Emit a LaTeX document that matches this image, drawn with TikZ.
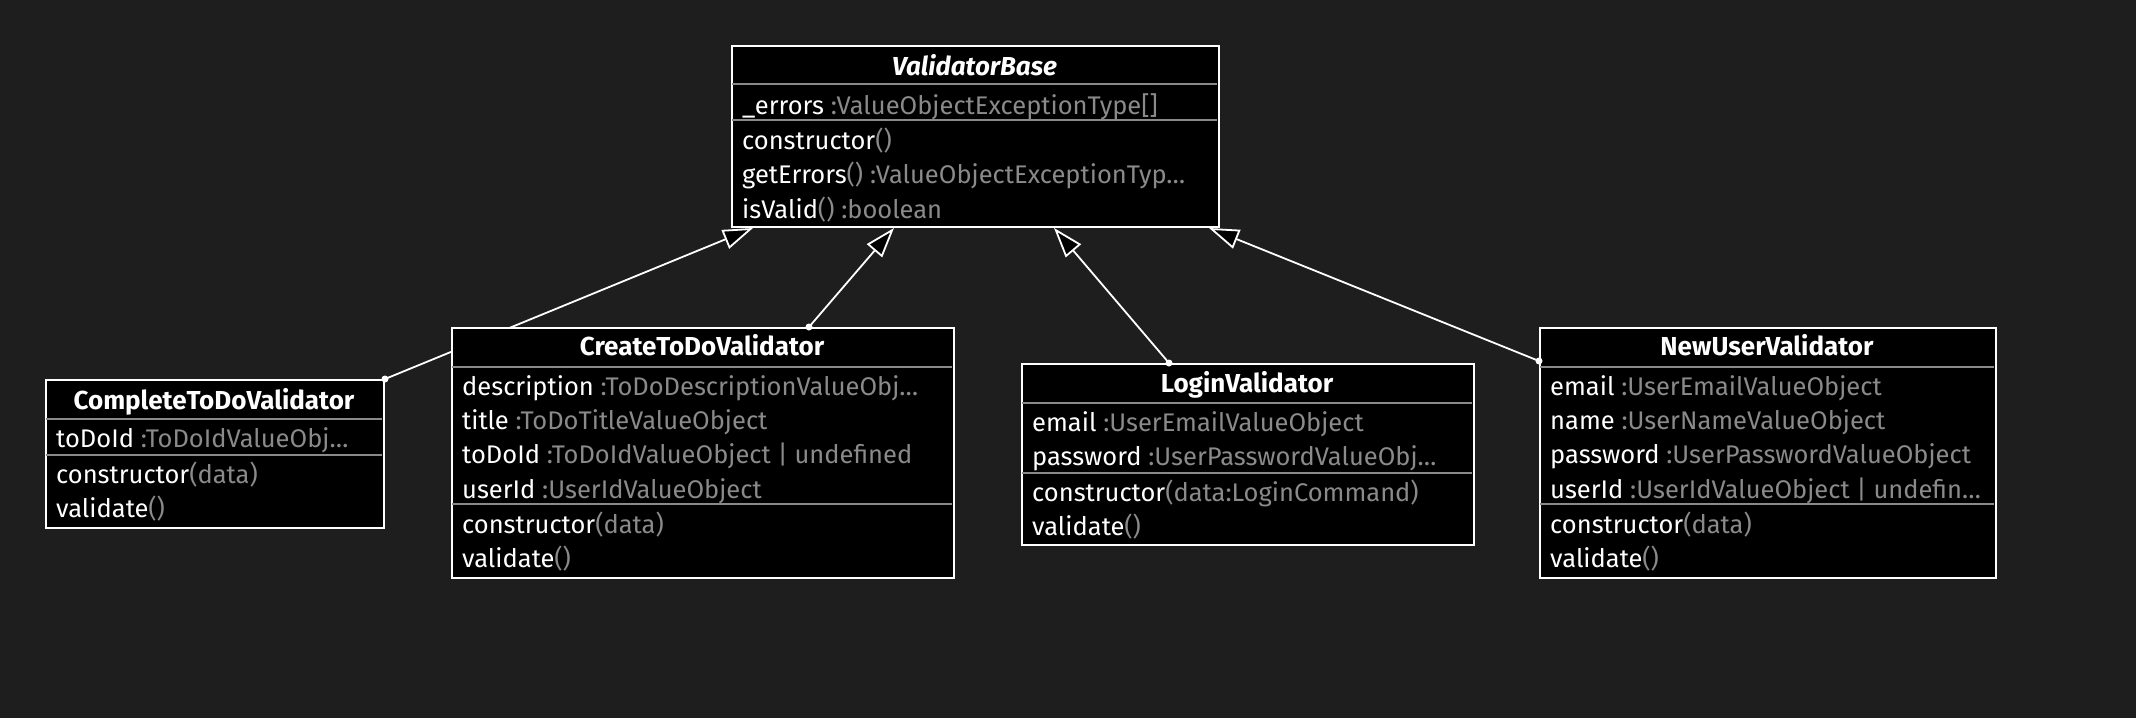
\documentclass[tikz,border=0pt]{standalone}
\usepackage{fontspec}
\setmainfont{Fira Sans}
\usetikzlibrary{arrows.meta}
\definecolor{bgc}{HTML}{1E1E1E}
\definecolor{tgray}{HTML}{8A8A8A}
\definecolor{sgray}{HTML}{8A8A8A}
\pgfdeclarelayer{back}
\pgfdeclarelayer{conn}
\pgfsetlayers{back,conn,main}
\newcommand{\ty}[1]{\textcolor{tgray}{#1}}
\begin{document}
\begin{tikzpicture}[x=1pt,y=-1pt,
 classbox/.style={draw=white, fill=black, line width=2pt, rectangle, inner sep=0pt, anchor=north west},
 sepline/.style={draw=sgray, line width=2pt},
 ttl/.style={font=\fontsize{26}{30}\selectfont\bfseries, text=white, inner sep=0pt, anchor=base},
 row/.style={font=\fontsize{25.5}{30}\selectfont, text=white, inner sep=0pt, anchor=base west},
 gen/.style={draw=white, line width=1.8pt, -{Triangle[length=30pt,width=20pt,fill=black]}},
 tdot/.style={fill=white}
]
\begin{pgfonlayer}{back}
\fill[bgc] (0,0) rectangle (2136,718);
\end{pgfonlayer}
\useasboundingbox (0,0) rectangle (2136,718);

% ValidatorBase
\node[classbox, minimum width=487pt, minimum height=181pt] (base) at (731,45) {};
\draw[sepline] (732,84) -- (1217,84);
\draw[sepline] (732,120) -- (1217,120);
\node[ttl] (base-t) at (974.5,75) {\itshape ValidatorBase};
\node[row] (base-a1) at (742,114) {\_errors \ty{:ValueObjectExceptionType[]}};
\node[row] (base-m1) at (742,149) {constructor\ty{()}};
\node[row] (base-m2) at (742,183.5) {getErrors\ty{() :ValueObjectExceptionTyp…}};
\node[row] (base-m3) at (742,218) {isValid\ty{() :boolean}};

% CompleteToDoValidator
\node[classbox, minimum width=338pt, minimum height=148pt] (complete) at (45,379) {};
\draw[sepline] (46,419) -- (382,419);
\draw[sepline] (46,455) -- (382,455);
\node[ttl] (complete-t) at (214,409) {CompleteToDoValidator};
\node[row] (complete-a1) at (56,447) {toDoId \ty{:ToDoIdValueObj…}};
\node[row] (complete-m1) at (56,483) {constructor\ty{(data)}};
\node[row] (complete-m2) at (56,517) {validate\ty{()}};

% CreateToDoValidator
\node[classbox, minimum width=502pt, minimum height=250pt] (create) at (451,327) {};
\draw[sepline] (452,367) -- (952,367);
\draw[sepline] (452,504) -- (952,504);
\node[ttl] (create-t) at (702,355) {CreateToDoValidator};
\node[row] (create-a1) at (462,395) {description \ty{:ToDoDescriptionValueObj…}};
\node[row] (create-a2) at (462,429) {title \ty{:ToDoTitleValueObject}};
\node[row] (create-a3) at (462,463.5) {toDoId \ty{:ToDoIdValueObject | undefined}};
\node[row] (create-a4) at (462,498) {userId \ty{:UserIdValueObject}};
\node[row] (create-m1) at (462,533) {constructor\ty{(data)}};
\node[row] (create-m2) at (462,567) {validate\ty{()}};

% LoginValidator
\node[classbox, minimum width=452pt, minimum height=181pt] (login) at (1021,363) {};
\draw[sepline] (1022,403) -- (1472,403);
\draw[sepline] (1022,473) -- (1472,473);
\node[ttl] (login-t) at (1247,392) {LoginValidator};
\node[row] (login-a1) at (1032,431) {email \ty{:UserEmailValueObject}};
\node[row] (login-a2) at (1032,465) {password \ty{:UserPasswordValueObj…}};
\node[row] (login-m1) at (1032,501) {constructor\ty{(data:LoginCommand)}};
\node[row] (login-m2) at (1032,535) {validate\ty{()}};

% NewUserValidator
\node[classbox, minimum width=456pt, minimum height=250pt] (newuser) at (1539,327) {};
\draw[sepline] (1540,367) -- (1994,367);
\draw[sepline] (1540,504) -- (1994,504);
\node[ttl] (newuser-t) at (1767,355) {NewUserValidator};
\node[row] (newuser-a1) at (1550,395) {email \ty{:UserEmailValueObject}};
\node[row] (newuser-a2) at (1550,429) {name \ty{:UserNameValueObject}};
\node[row] (newuser-a3) at (1550,463.5) {password \ty{:UserPasswordValueObject}};
\node[row] (newuser-a4) at (1550,498) {userId \ty{:UserIdValueObject | undefin…}};
\node[row] (newuser-m1) at (1550,533) {constructor\ty{(data)}};
\node[row] (newuser-m2) at (1550,567) {validate\ty{()}};

% generalizations
\begin{pgfonlayer}{conn}
\coordinate (s1) at (complete.north east);
\coordinate (s2) at ([xshift=358pt]create.north west);
\coordinate (s3) at ([xshift=148pt]login.north west);
\coordinate (s4) at ([yshift=-34pt]newuser.north west);
\coordinate (e1) at ([xshift=22pt]base.south west);
\coordinate (e2) at ([xshift=163pt]base.south west);
\coordinate (e3) at ([xshift=323pt]base.south west);
\coordinate (e4) at ([xshift=-11pt]base.south east);
\draw[gen] (s1) -- (e1);
\draw[gen] (s2) -- (e2);
\draw[gen] (s3) -- (e3);
\draw[gen] (s4) -- (e4);
\end{pgfonlayer}
\fill[tdot] (s1) circle (3.5pt);
\fill[tdot] (s2) circle (3.5pt);
\fill[tdot] (s3) circle (3.5pt);
\fill[tdot] (s4) circle (3.5pt);
\end{tikzpicture}
\end{document}
